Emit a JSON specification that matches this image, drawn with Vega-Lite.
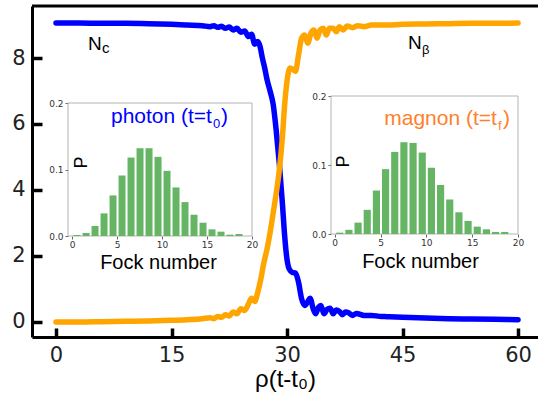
{
  "$schema": "https://vega.github.io/schema/vega-lite/v6.json",
  "width": 506,
  "height": 331,
  "autosize": {"type": "none"},
  "padding": {"left": 32, "top": 6, "right": 0, "bottom": 66},
  "background": "white",
  "config": {"view": {"stroke": null}, "axis": {"grid": false}, "font": "Liberation Sans"},
  "datasets": {
    "nc": [
      {"t": 0, "N": 9.06}, {"t": 3, "N": 9.06}, {"t": 6, "N": 9.05}, {"t": 9, "N": 9.05}, {"t": 12, "N": 9.04},
      {"t": 15, "N": 9.02}, {"t": 17, "N": 9.0}, {"t": 19, "N": 8.98}, {"t": 20, "N": 8.95}, {"t": 20.5, "N": 8.98},
      {"t": 21, "N": 8.93}, {"t": 21.5, "N": 8.96}, {"t": 22, "N": 8.9}, {"t": 22.5, "N": 8.94}, {"t": 23, "N": 8.85},
      {"t": 23.5, "N": 8.9}, {"t": 24, "N": 8.78}, {"t": 24.5, "N": 8.82}, {"t": 25, "N": 8.65}, {"t": 25.4, "N": 8.72},
      {"t": 25.8, "N": 8.42}, {"t": 26.2, "N": 8.5}, {"t": 26.5, "N": 8.35}, {"t": 26.8, "N": 8.0}, {"t": 27.1, "N": 7.7},
      {"t": 27.4, "N": 7.35}, {"t": 27.8, "N": 7.0}, {"t": 28.2, "N": 6.6}, {"t": 28.6, "N": 5.8}, {"t": 29.0, "N": 4.8},
      {"t": 29.4, "N": 3.6}, {"t": 29.7, "N": 2.6}, {"t": 30.0, "N": 1.9}, {"t": 30.3, "N": 1.6}, {"t": 30.7, "N": 1.5},
      {"t": 31.1, "N": 1.48}, {"t": 31.5, "N": 1.2}, {"t": 31.9, "N": 0.7}, {"t": 32.3, "N": 0.5}, {"t": 32.7, "N": 0.62},
      {"t": 33.0, "N": 0.72}, {"t": 33.4, "N": 0.4}, {"t": 33.7, "N": 0.25}, {"t": 34.1, "N": 0.45}, {"t": 34.4, "N": 0.5},
      {"t": 34.8, "N": 0.25}, {"t": 35.2, "N": 0.38}, {"t": 35.6, "N": 0.42}, {"t": 36.0, "N": 0.25}, {"t": 36.4, "N": 0.36},
      {"t": 36.8, "N": 0.32}, {"t": 37.2, "N": 0.22}, {"t": 37.6, "N": 0.3}, {"t": 38.0, "N": 0.28}, {"t": 38.5, "N": 0.2},
      {"t": 39, "N": 0.26}, {"t": 40, "N": 0.2}, {"t": 41, "N": 0.2}, {"t": 42, "N": 0.17}, {"t": 43, "N": 0.16},
      {"t": 45, "N": 0.14}, {"t": 48, "N": 0.12}, {"t": 51, "N": 0.1}, {"t": 54, "N": 0.09}, {"t": 57, "N": 0.08},
      {"t": 60, "N": 0.07}
    ],
    "nb": [
      {"t": 0, "N": 0.0}, {"t": 3, "N": 0.0}, {"t": 6, "N": 0.01}, {"t": 9, "N": 0.02}, {"t": 12, "N": 0.03},
      {"t": 15, "N": 0.05}, {"t": 17, "N": 0.07}, {"t": 19, "N": 0.1}, {"t": 20, "N": 0.13}, {"t": 20.5, "N": 0.1},
      {"t": 21, "N": 0.17}, {"t": 21.5, "N": 0.14}, {"t": 22, "N": 0.22}, {"t": 22.5, "N": 0.18}, {"t": 23, "N": 0.3},
      {"t": 23.5, "N": 0.25}, {"t": 24, "N": 0.4}, {"t": 24.5, "N": 0.35}, {"t": 25, "N": 0.55}, {"t": 25.4, "N": 0.72},
      {"t": 25.8, "N": 0.62}, {"t": 26.2, "N": 0.9}, {"t": 26.6, "N": 1.3}, {"t": 27.0, "N": 1.8}, {"t": 27.4, "N": 2.2},
      {"t": 27.8, "N": 2.7}, {"t": 28.2, "N": 3.3}, {"t": 28.6, "N": 3.9}, {"t": 29.0, "N": 4.6}, {"t": 29.4, "N": 5.6},
      {"t": 29.7, "N": 6.6}, {"t": 30.0, "N": 7.3}, {"t": 30.4, "N": 7.7}, {"t": 30.8, "N": 7.65}, {"t": 31.1, "N": 7.6},
      {"t": 31.5, "N": 8.1}, {"t": 31.9, "N": 8.6}, {"t": 32.3, "N": 8.7}, {"t": 32.7, "N": 8.45}, {"t": 33.1, "N": 8.75},
      {"t": 33.5, "N": 8.85}, {"t": 33.9, "N": 8.6}, {"t": 34.3, "N": 8.85}, {"t": 34.7, "N": 8.9}, {"t": 35.1, "N": 8.7},
      {"t": 35.5, "N": 8.9}, {"t": 36.0, "N": 8.9}, {"t": 36.4, "N": 8.8}, {"t": 36.8, "N": 8.95}, {"t": 37.3, "N": 8.85},
      {"t": 37.8, "N": 8.97}, {"t": 38.5, "N": 8.92}, {"t": 39.2, "N": 8.98}, {"t": 40, "N": 8.95}, {"t": 41, "N": 9.0},
      {"t": 43, "N": 9.0}, {"t": 45, "N": 9.02}, {"t": 48, "N": 9.03}, {"t": 51, "N": 9.04}, {"t": 54, "N": 9.05},
      {"t": 57, "N": 9.05}, {"t": 60, "N": 9.06}
    ],
    "photon": [
      {"n": 0, "P": 0.0015}, {"n": 1, "P": 0.0045}, {"n": 2, "P": 0.015}, {"n": 3, "P": 0.034}, {"n": 4, "P": 0.061},
      {"n": 5, "P": 0.091}, {"n": 6, "P": 0.118}, {"n": 7, "P": 0.132}, {"n": 8, "P": 0.132}, {"n": 9, "P": 0.119},
      {"n": 10, "P": 0.098}, {"n": 11, "P": 0.073}, {"n": 12, "P": 0.051}, {"n": 13, "P": 0.032}, {"n": 14, "P": 0.02},
      {"n": 15, "P": 0.01}, {"n": 16, "P": 0.0065}, {"n": 17, "P": 0.002}, {"n": 18, "P": 0.003}
    ],
    "magnon": [
      {"n": 0, "P": 0.002}, {"n": 1, "P": 0.006}, {"n": 2, "P": 0.0165}, {"n": 3, "P": 0.035}, {"n": 4, "P": 0.063},
      {"n": 5, "P": 0.094}, {"n": 6, "P": 0.119}, {"n": 7, "P": 0.133}, {"n": 8, "P": 0.132}, {"n": 9, "P": 0.118},
      {"n": 10, "P": 0.096}, {"n": 11, "P": 0.071}, {"n": 12, "P": 0.05}, {"n": 13, "P": 0.0315}, {"n": 14, "P": 0.019},
      {"n": 15, "P": 0.0107}, {"n": 16, "P": 0.0068}, {"n": 17, "P": 0.003}, {"n": 18, "P": 0.003}
    ]
  },
  "layer": [
    {
      "layer": [
        {
          "data": {"name": "nc"},
          "mark": {"type": "line", "color": "#0000ff", "strokeWidth": 5.5, "interpolate": "monotone", "strokeCap": "round"},
          "encoding": {
            "x": {"field": "t", "type": "quantitative",
              "scale": {"domain": [-3.117, 62.597], "nice": false, "zero": false},
              "axis": {"orient": "bottom", "values": [0, 15, 30, 45, 60], "tickSize": -9, "tickWidth": 3.5, "tickColor": "#000",
                "domainWidth": 3, "domainColor": "#000", "labelFont": "DejaVu Sans", "labelFontSize": 21, "labelColor": "#222",
                "labelPadding": 16, "labelFlush": false, "title": "ρ(t-t₀)", "titleFont": "Liberation Sans", "titleFontSize": 24,
                "titleFontWeight": "normal", "titleColor": "#000", "titleY": 49, "titleBaseline": "alphabetic"}},
            "y": {"field": "N", "type": "quantitative",
              "scale": {"domain": [-0.455, 9.576], "nice": false, "zero": false},
              "axis": {"orient": "left", "values": [0, 2, 4, 6, 8], "tickSize": -10, "tickWidth": 3.5, "tickColor": "#000",
                "domain": true, "domainWidth": 3, "domainColor": "#000", "labelFont": "DejaVu Sans", "labelFontSize": 21, "labelColor": "#222",
                "labelPadding": 17, "title": null}}
          }
        },
        {
          "data": {"name": "nb"},
          "mark": {"type": "line", "color": "#ffa500", "strokeWidth": 5.5, "interpolate": "monotone", "strokeCap": "round"},
          "encoding": {
            "x": {"field": "t", "type": "quantitative"},
            "y": {"field": "N", "type": "quantitative"}
          }
        },
        {
          "data": {"values": [{}]},
          "mark": {"type": "rule", "color": "#000", "strokeWidth": 3},
          "encoding": {"y": {"datum": 9.576, "type": "quantitative"}}
        },
        {
          "data": {"values": [{}]},
          "mark": {"type": "text", "text": "N", "align": "left", "baseline": "alphabetic", "fontSize": 19, "font": "Liberation Sans", "color": "#000"},
          "encoding": {"x": {"datum": 4.16, "type": "quantitative"}, "y": {"datum": 8.24, "type": "quantitative"}}
        },
        {
          "data": {"values": [{}]},
          "mark": {"type": "text", "text": "c", "align": "left", "baseline": "alphabetic", "fontSize": 15, "font": "Liberation Sans", "color": "#000", "dx": 14, "dy": 3},
          "encoding": {"x": {"datum": 4.16, "type": "quantitative"}, "y": {"datum": 8.24, "type": "quantitative"}}
        },
        {
          "data": {"values": [{}]},
          "mark": {"type": "text", "text": "N", "align": "left", "baseline": "alphabetic", "fontSize": 19, "font": "Liberation Sans", "color": "#000"},
          "encoding": {"x": {"datum": 45.7, "type": "quantitative"}, "y": {"datum": 8.27, "type": "quantitative"}}
        },
        {
          "data": {"values": [{}]},
          "mark": {"type": "text", "text": "β", "align": "left", "baseline": "alphabetic", "fontSize": 13, "font": "Liberation Sans", "color": "#000", "dx": 14, "dy": 5},
          "encoding": {"x": {"datum": 45.7, "type": "quantitative"}, "y": {"datum": 8.27, "type": "quantitative"}}
        }
      ]
    },
    {
      "layer": [
        {
          "data": {"values": [{}]},
          "mark": {"type": "rect", "filled": false, "stroke": "#b4b4b4", "strokeWidth": 1},
          "encoding": {
            "x": {"datum": -0.45, "type": "quantitative",
              "scale": {"domain": [-0.45, 20], "range": [36, 220], "nice": false, "zero": false},
              "axis": {"orient": "bottom", "offset": -101, "values": [0, 5, 10, 15, 20], "format": "d", "labelFont": "DejaVu Sans", "labelFontSize": 9,
                "labelColor": "#333", "tickSize": 3, "tickColor": "#666", "labelPadding": 1, "labelFlush": false, "domain": false,
                "title": "Fock number", "titleFont": "Liberation Sans", "titleFontSize": 20, "titleFontWeight": "normal", "titleColor": "#000",
                "titleX": 126, "titleY": 32, "titleBaseline": "alphabetic"}},
            "x2": {"datum": 20},
            "y": {"datum": 0, "type": "quantitative",
              "scale": {"domain": [0, 0.2], "range": [230, 97], "nice": false, "zero": false},
              "axis": {"orient": "left", "offset": -36, "values": [0, 0.1, 0.2], "format": ".1f", "labelFont": "DejaVu Sans", "labelFontSize": 9,
                "labelColor": "#333", "tickSize": 3, "tickColor": "#666", "labelPadding": 2, "domain": false,
                "title": "P", "titleFont": "Liberation Sans", "titleFontSize": 18, "titleFontWeight": "normal", "titleColor": "#000",
                "titleAngle": -90, "titleX": 13, "titleY": 156, "titleAlign": "center", "titleBaseline": "middle"}},
            "y2": {"datum": 0.2}
          }
        },
        {
          "data": {"name": "photon"},
          "mark": {"type": "bar", "color": "#65b565", "binSpacing": 2},
          "encoding": {
            "x": {"field": "n", "type": "quantitative", "bin": {"step": 1, "extent": [0, 20]}},
            "y": {"field": "P", "type": "quantitative"}
          }
        },
        {
          "data": {"values": [{}]},
          "mark": {"type": "text", "text": "photon (t=t", "align": "right", "baseline": "alphabetic", "fontSize": 21, "font": "Liberation Sans", "color": "#0000ff"},
          "encoding": {"x": {"datum": 15.55, "type": "quantitative"}, "y": {"datum": 0.17, "type": "quantitative"}}
        },
        {
          "data": {"values": [{}]},
          "mark": {"type": "text", "text": "0", "align": "left", "baseline": "alphabetic", "fontSize": 13, "font": "Liberation Sans", "color": "#0000ff", "dx": 1, "dy": 5},
          "encoding": {"x": {"datum": 15.55, "type": "quantitative"}, "y": {"datum": 0.17, "type": "quantitative"}}
        },
        {
          "data": {"values": [{}]},
          "mark": {"type": "text", "text": ")", "align": "left", "baseline": "alphabetic", "fontSize": 21, "font": "Liberation Sans", "color": "#0000ff", "dx": 9},
          "encoding": {"x": {"datum": 15.55, "type": "quantitative"}, "y": {"datum": 0.17, "type": "quantitative"}}
        }
      ]
    },
    {
      "layer": [
        {
          "data": {"values": [{}]},
          "mark": {"type": "rect", "filled": false, "stroke": "#b4b4b4", "strokeWidth": 1},
          "encoding": {
            "x": {"datum": -0.4, "type": "quantitative",
              "scale": {"domain": [-0.4, 20], "range": [299, 486], "nice": false, "zero": false},
              "axis": {"orient": "bottom", "offset": -103, "values": [0, 5, 10, 15, 20], "format": "d", "labelFont": "DejaVu Sans", "labelFontSize": 9,
                "labelColor": "#333", "tickSize": 3, "tickColor": "#666", "labelPadding": 1, "labelFlush": false, "domain": false,
                "title": "Fock number", "titleFont": "Liberation Sans", "titleFontSize": 20, "titleFontWeight": "normal", "titleColor": "#000",
                "titleX": 388, "titleY": 33, "titleBaseline": "alphabetic"}},
            "x2": {"datum": 20},
            "y": {"datum": 0, "type": "quantitative",
              "scale": {"domain": [0, 0.2], "range": [228, 90], "nice": false, "zero": false},
              "axis": {"orient": "left", "offset": -299, "values": [0, 0.1, 0.2], "format": ".1f", "labelFont": "DejaVu Sans", "labelFontSize": 9,
                "labelColor": "#333", "tickSize": 3, "tickColor": "#666", "labelPadding": 2, "domain": false,
                "title": "P", "titleFont": "Liberation Sans", "titleFontSize": 18, "titleFontWeight": "normal", "titleColor": "#000",
                "titleAngle": -90, "titleX": 12, "titleY": 155, "titleAlign": "center", "titleBaseline": "middle"}},
            "y2": {"datum": 0.2}
          }
        },
        {
          "data": {"name": "magnon"},
          "mark": {"type": "bar", "color": "#65b565", "binSpacing": 2},
          "encoding": {
            "x": {"field": "n", "type": "quantitative", "bin": {"step": 1, "extent": [0, 20]}},
            "y": {"field": "P", "type": "quantitative"}
          }
        },
        {
          "data": {"values": [{}]},
          "mark": {"type": "text", "text": "magnon (t=t", "align": "right", "baseline": "alphabetic", "fontSize": 21, "font": "Liberation Sans", "color": "#ff7f2a"},
          "encoding": {"x": {"datum": 17.7, "type": "quantitative"}, "y": {"datum": 0.158, "type": "quantitative"}}
        },
        {
          "data": {"values": [{}]},
          "mark": {"type": "text", "text": "f", "align": "left", "baseline": "alphabetic", "fontSize": 13, "font": "Liberation Sans", "color": "#ff7f2a", "dx": 1, "dy": 5},
          "encoding": {"x": {"datum": 17.7, "type": "quantitative"}, "y": {"datum": 0.158, "type": "quantitative"}}
        },
        {
          "data": {"values": [{}]},
          "mark": {"type": "text", "text": ")", "align": "left", "baseline": "alphabetic", "fontSize": 21, "font": "Liberation Sans", "color": "#ff7f2a", "dx": 6},
          "encoding": {"x": {"datum": 17.7, "type": "quantitative"}, "y": {"datum": 0.158, "type": "quantitative"}}
        }
      ]
    }
  ],
  "resolve": {"scale": {"x": "independent", "y": "independent"}, "axis": {"x": "independent", "y": "independent"}}
}
